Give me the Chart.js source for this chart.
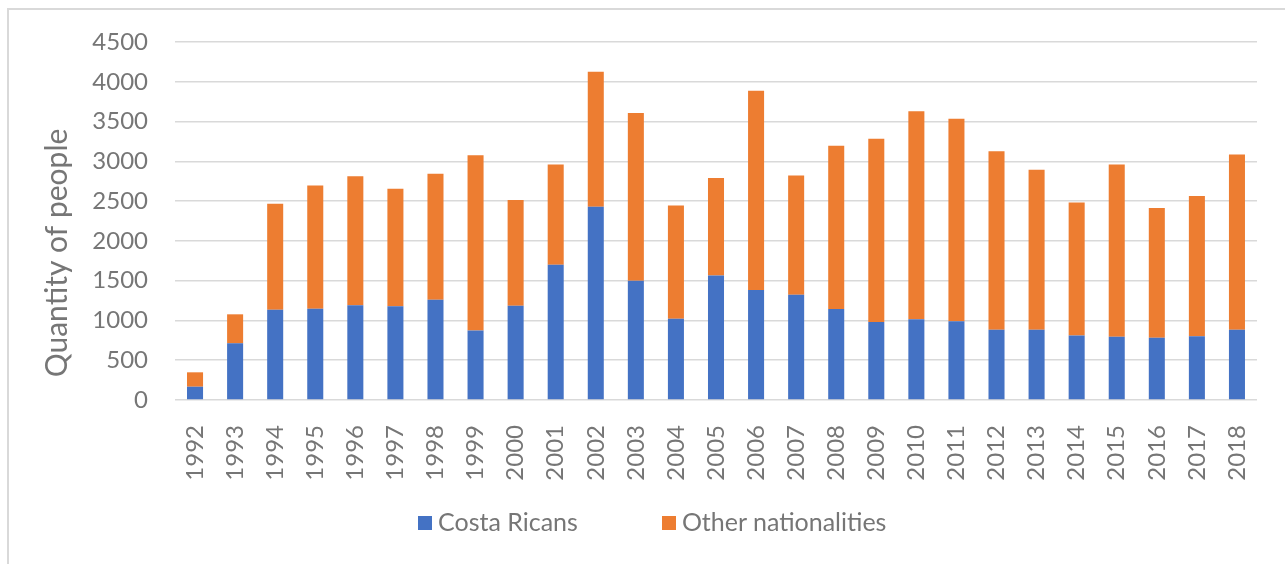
<!DOCTYPE html>
<html>
<head>
<meta charset="utf-8">
<title>Quantity of people</title>
<script src="https://cdn.jsdelivr.net/npm/chart.js@4/dist/chart.umd.min.js"></script>
<style>
  body { margin: 0; background: #fff; overflow: hidden; }
  #wrap { position: relative; width: 1285px; height: 564px; }
  #frame { position: absolute; left: 7px; top: 8px; width: 1300px; height: 600px; border: 2px solid #d9d9d9; box-sizing: border-box; }
  #chart { position: absolute; left: 0; top: 0; }
  #legend { position: absolute; left: 418px; top: 506px; font-family: Lato, sans-serif; font-size: 25px; color: #767676; white-space: nowrap; }
  #legend span.item { display: inline-block; margin-right: 84px; }
  #legend span.box { display: inline-block; width: 14px; height: 14px; margin-right: 6px; vertical-align: 1px; }
</style>
</head>
<body>
<div id="wrap">
  <div id="frame"></div>
  <canvas id="chart" width="1285" height="564"></canvas>
  <div id="legend"></div>
</div>
<script>
const years = ['1992','1993','1994','1995','1996','1997','1998','1999','2000','2001','2002','2003','2004',
  '2005','2006','2007','2008','2009','2010','2011','2012','2013','2014','2015','2016','2017','2018']

const costaRicans = [167, 712, 1134, 1147, 1190, 1177, 1260, 875, 1185, 1700, 2428, 1499, 1022,
  1566, 1382, 1323, 1143, 980, 1014, 989, 883, 883, 812, 795, 783, 800, 883]

const otherNationalities = [181, 365, 1332, 1550, 1624, 1478, 1583, 2203, 1328, 1261, 1697, 2107, 1424,
  1223, 2504, 1500, 2052, 2303, 2617, 2545, 2245, 2010, 1672, 2166, 1629, 1763, 2203]

const seriesNames = ['Costa Ricans', 'Other nationalities']
const seriesColors = ['#4472c4', '#ed7d31']

const yTicks = [0, 500, 1000, 1500, 2000, 2500, 3000, 3500, 4000, 4500]
const yTitle = 'Quantity of people'

const textColor = '#767676'
const gridColor = '#d9d9d9'

// y axis title is drawn by hand so it can sit a bit lower than the plot centre
const yTitlePlugin = {
  id: 'yTitle',
  afterDraw(chart) {
    const ctx = chart.ctx
    ctx.save()
    ctx.translate(57, 253)
    ctx.rotate(-Math.PI / 2)
    ctx.font = '30px Lato, sans-serif'
    ctx.fillStyle = textColor
    ctx.textAlign = 'center'
    ctx.textBaseline = 'middle'
    ctx.fillText(yTitle, 0, 0)
    ctx.restore()
  }
}

const ctx = document.getElementById('chart')
const chart = new Chart(ctx, {
  type: 'bar',
  data: {
    labels: years,
    datasets: [
      { label: seriesNames[0], data: costaRicans, backgroundColor: seriesColors[0] },
      { label: seriesNames[1], data: otherNationalities, backgroundColor: seriesColors[1] }
    ]
  },
  options: {
    responsive: false,
    animation: false,
    barPercentage: 0.4,
    categoryPercentage: 1,
    layout: { padding: { left: 8, top: 42, right: 28, bottom: 64 } },
    plugins: {
      legend: { display: false },
      tooltip: { enabled: false }
    },
    scales: {
      x: {
        stacked: true,
        grid: { display: false },
        border: { display: false },
        ticks: {
          color: textColor,
          font: { family: 'Lato, sans-serif', size: 24 },
          minRotation: 90,
          maxRotation: 90,
          padding: 17
        },
        afterFit: s => { s.height = 100 }
      },
      y: {
        stacked: true,
        min: yTicks[0],
        max: yTicks[yTicks.length - 1],
        grid: { color: gridColor, lineWidth: 1.5, drawTicks: false },
        border: { display: false },
        afterBuildTicks: s => { s.ticks = yTicks.map(v => ({ value: v })) },
        ticks: {
          color: textColor,
          font: { family: 'Lato, sans-serif', size: 24 },
          padding: 27,
          callback: v => String(v)
        },
        afterFit: s => { s.width = 167 }
      }
    }
  },
  plugins: [yTitlePlugin]
})

// legend built from the chart's own datasets
const legendView = document.getElementById('legend')
chart.data.datasets.forEach(ds => {
  const item = document.createElement('span')
  item.className = 'item'
  item.innerHTML = '<span class="box" style="background:' + ds.backgroundColor + '"></span>' + ds.label
  legendView.appendChild(item)
})
</script>
</body>
</html>
